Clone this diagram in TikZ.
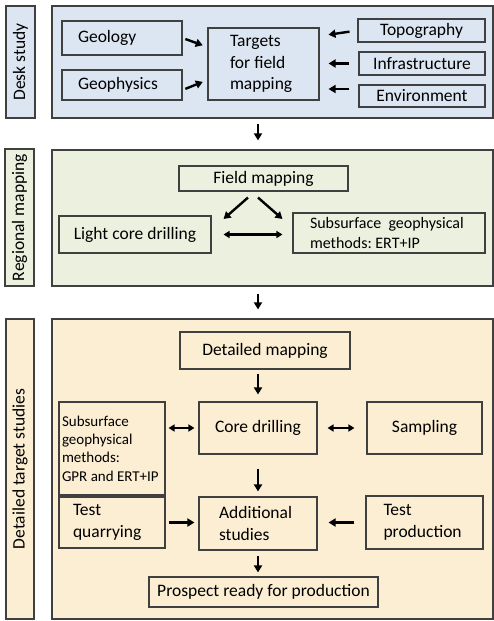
\documentclass[tikz,border=0pt]{standalone}
\usepackage{fontspec}
\setmainfont{Carlito}
\usetikzlibrary{arrows.meta}

\definecolor{deskblue}{HTML}{DCE6F2}
\definecolor{mapgreen}{HTML}{EBF1DE}
\definecolor{studyorange}{HTML}{FCEED3}
\definecolor{edge}{HTML}{404040}

\tikzset{
  box/.style={draw=edge, line width=1.1pt, inner sep=0pt,
              font=\fontsize{17.5}{21.5}\selectfont,
              execute at begin node={\frenchspacing\spaceskip=\fontdimen2\font\relax\xspaceskip=\fontdimen2\font\relax}},
  panel/.style={draw=edge, line width=1.2pt, inner sep=0pt},
  lbl/.style={panel, rotate=90, font=\fontsize{17.5}{21.5}\selectfont},
  arr/.style={line width=2.4pt, -{Triangle[length=7pt,width=8pt]}},
  dbl/.style={line width=2.2pt, {Triangle[length=6pt,width=7pt]}-{Triangle[length=6pt,width=7pt]}},
}

\begin{document}
\begin{tikzpicture}[x=1pt, y=-1pt]
  \useasboundingbox (0,0) rectangle (494,621);

  % the three stages
  \node[panel, fill=deskblue, minimum width=441pt, minimum height=112pt] (desk) at (272.5,62) {};
  \node[panel, fill=mapgreen, minimum width=441pt, minimum height=136pt] (regional) at (272.5,218) {};
  \node[panel, fill=studyorange, minimum width=441pt, minimum height=300pt] (detailed) at (272.5,469) {};

  \node[lbl, fill=deskblue, minimum width=112pt, minimum height=29pt] (desklbl) at (20.5,62) {Desk study};
  \node[lbl, fill=mapgreen, minimum width=137pt, minimum height=29pt] (reglbl) at (19.5,217.5) {Regional mapping};
  \node[lbl, fill=studyorange, minimum width=300pt, minimum height=28pt] (detlbl) at (20,469) {Detailed target studies};

  % desk study
  \node[box, fill=deskblue, text width=88pt, inner xsep=16pt, minimum height=34pt, align=left] (geology) at (122,38) {Geology};
  \node[box, fill=deskblue, text width=88pt, inner xsep=16pt, minimum height=30pt, align=left] (geophys) at (122,85) {Geophysics};
  \node[box, fill=deskblue, text width=67pt, inner xsep=22pt, minimum height=72pt, align=left] (targets) at (263.5,64) {Targets\\for field\\mapping};
  \node[box, fill=deskblue, minimum width=127pt, minimum height=23pt] (topo) at (421.5,30.5) {Topography};
  \node[box, fill=deskblue, minimum width=126pt, minimum height=23pt] (infra) at (422,63.5) {Infrastructure};
  \node[box, fill=deskblue, minimum width=126pt, minimum height=22pt] (env) at (422,96) {Environment};

  \draw[arr, shorten <=3pt, shorten >=5pt] (geology.east) -- ([yshift=17pt]targets.west);
  \draw[arr, shorten <=3pt, shorten >=5pt] ([yshift=-5pt]geophys.east) -- ([yshift=-16pt]targets.west);
  \draw[arr, shorten <=8pt, shorten >=9pt] (topo.west) -- ([yshift=28pt]targets.east);
  \draw[arr, shorten <=9pt, shorten >=9pt] (infra.west) -- (infra.west -| targets.east);
  \draw[arr, shorten <=9pt, shorten >=9pt] ([yshift=7pt]env.west) -- ([yshift=-25pt]targets.east);

  \draw[arr, shorten <=5pt, shorten >=9pt] ([xshift=-14.5pt]desk.south) -- ([xshift=-14.5pt]regional.north);

  % regional mapping
  \node[box, fill=mapgreen, minimum width=169pt, minimum height=25pt] (field) at (263.5,178.5) {Field mapping};
  \node[box, fill=mapgreen, minimum width=152pt, minimum height=37pt] (light) at (135,234.5) {Light core drilling};
  \node[box, fill=mapgreen, text width=158pt, inner xsep=17pt, minimum height=40pt, align=left,
        font=\fontsize{16}{20}\selectfont] (subreg) at (389,233) {Subsurface~~geophysical\\methods: ERT+IP};

  \draw[arr] ([xshift=-15.5pt,yshift=-6pt]field.south) -- ([xshift=12pt,yshift=15.5pt]light.east);
  \draw[arr] ([xshift=-5.5pt,yshift=-6pt]field.south) -- ([xshift=-10pt,yshift=14pt]subreg.west);
  \draw[dbl, shorten <=12pt, shorten >=10pt] (light.east) -- (light.east -| subreg.west);

  \draw[arr, shorten <=7pt, shorten >=9pt] ([xshift=-14.5pt]regional.south) -- ([xshift=-14.5pt]detailed.north);

  % detailed target studies
  \node[box, fill=studyorange, minimum width=170pt, minimum height=37pt] (detmap) at (265,350.5) {Detailed mapping};
  \node[box, fill=studyorange, text width=100pt, inner xsep=3pt, minimum height=93pt, align=left,
        font=\fontsize{15}{18.3}\selectfont] (subdet) at (112,448.5) {Subsurface\\geophysical\\methods:\\GPR~and~ERT+IP};
  \node[box, fill=studyorange, minimum width=118pt, minimum height=52pt] (core) at (258,428) {Core drilling};
  \node[box, fill=studyorange, minimum width=115pt, minimum height=52pt] (sampling) at (424.5,428) {Sampling};
  \node[box, fill=studyorange, text width=78pt, inner xsep=14pt, minimum height=51pt, align=left] (testq) at (112,522.5) {Test\\quarrying};
  \node[box, fill=studyorange, text width=78pt, inner xsep=20pt, minimum height=53pt, align=left] (addst) at (258,523.5) {Additional\\studies};
  \node[box, fill=studyorange, text width=82pt, inner xsep=17.5pt, minimum height=53pt, align=left] (testp) at (424.5,522.5) {Test\\production};
  \node[box, fill=studyorange, minimum width=229pt, minimum height=30pt] (prospect) at (263.5,592) {Prospect ready for production};

  \draw[arr, shorten <=4pt, shorten >=7pt] (core.north |- detmap.south) -- (core.north);
  \draw[dbl, shorten <=3pt, shorten >=4pt] (core.west -| subdet.east) -- (core.west);
  \draw[dbl, shorten <=10pt, shorten >=12pt] (core.east) -- (sampling.west);
  \draw[arr, shorten <=14pt, shorten >=5pt] (core.south) -- (addst.north);
  \draw[arr, shorten <=3pt, shorten >=4pt] (testq.east) -- (testq.east -| addst.west);
  \draw[arr, shorten <=11pt, shorten >=11pt] (testp.west) -- (testp.west -| addst.east);
  \draw[arr, shorten <=5pt, shorten >=4pt] (addst.south) -- (addst.south |- prospect.north);
\end{tikzpicture}
\end{document}
